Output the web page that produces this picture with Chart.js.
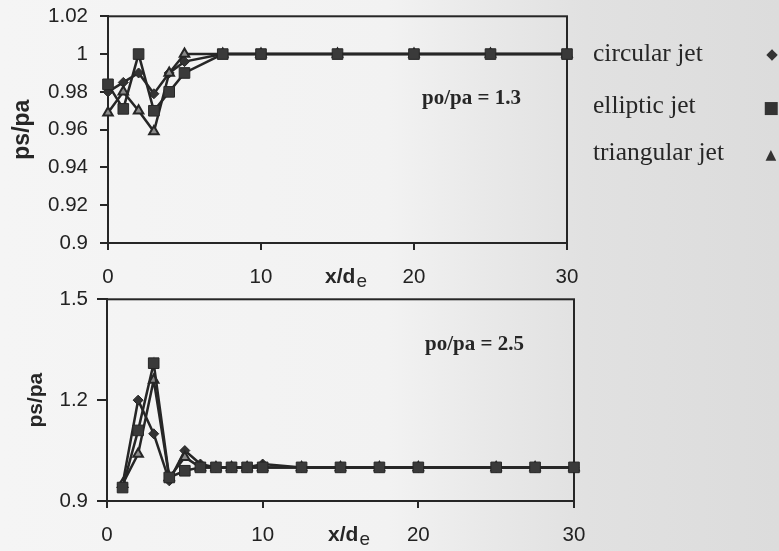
<!DOCTYPE html>
<html><head><meta charset="utf-8">
<script src="https://cdn.jsdelivr.net/npm/chart.js@4.4.0/dist/chart.umd.min.js"></script>
<style>
html,body{margin:0;padding:0;width:779px;height:551px;overflow:hidden;}
body{position:relative;background:linear-gradient(to right,#f5f5f5 0%,#f2f2f2 50%,#e9e9e9 62%,#e1e1e1 75%,#dcdcdc 100%);color:#262626;}
#w1{position:absolute;left:0;top:-8px;width:600px;height:300px;}
#w2{position:absolute;left:0;top:278px;width:610px;height:273px;}
.ann{position:absolute;font-family:"Liberation Serif",serif;font-weight:bold;font-size:21px;transform:translateY(-50%);white-space:nowrap;}
.leg{position:absolute;left:593px;font-family:"Liberation Serif",serif;font-size:25.5px;transform:translateY(-50%);white-space:nowrap;}
.mk{position:absolute;font-family:"DejaVu Sans",sans-serif;transform:translate(-50%,-50%);color:#333;line-height:1;}
</style></head>
<body>
<div id="w1"><canvas id="c1"></canvas></div>
<div id="w2"><canvas id="c2"></canvas></div>
<div class="ann" style="left:422px;top:97px;">po/pa = 1.3</div>
<div class="ann" style="left:425px;top:343px;">po/pa = 2.5</div>
<div class="leg" style="top:53px;">circular jet</div>
<div class="leg" style="top:105px;">elliptic jet</div>
<div class="leg" style="top:152px;">triangular jet</div>
<div class="mk" style="left:772px;top:54px;font-size:15px;">◆</div>
<div class="mk" style="left:771px;top:107px;font-size:17px;">■</div>
<div class="mk" style="left:771px;top:154px;font-size:14px;">▲</div>
<script>
// ---- data ----
const seriesNames = ['circular jet', 'elliptic jet', 'triangular jet'];

// po/pa = 1.3
const xTop    = [0, 1, 2, 3, 4, 5, 7.5, 10, 15, 20, 25, 30];
const circTop = [0.980, 0.985, 0.990, 0.979, 0.990, 0.996, 1, 1, 1, 1, 1, 1];
const ellTop  = [0.984, 0.971, 1.000, 0.970, 0.980, 0.990, 1, 1, 1, 1, 1, 1];
const triTop  = [0.969, 0.980, 0.970, 0.959, 0.990, 1.000, 1, 1, 1, 1, 1, 1];
const yTicksTop = [0.9, 0.92, 0.94, 0.96, 0.98, 1, 1.02];

// po/pa = 2.5
const xBot    = [1, 2, 3, 4, 5, 6, 7, 8, 9, 10, 12.5, 15, 17.5, 20, 25, 27.5, 30];
const circBot = [0.95, 1.20, 1.10, 0.96, 1.05, 1.01, 1.00, 1.00, 1.00, 1.01, 1, 1, 1, 1, 1, 1, 1];
const ellBot  = [0.94, 1.11, 1.31, 0.97, 0.99, 1.00, 1.00, 1.00, 1.00, 1.00, 1, 1, 1, 1, 1, 1, 1];
const triBot  = [0.95, 1.04, 1.26, 0.97, 1.03, 1.00, 1.00, 1.00, 1.00, 1.00, 1, 1, 1, 1, 1, 1, 1];
const yTicksBot = [0.9, 1.2, 1.5];

const xTicks = [0, 10, 20, 30];

// ---- helpers ----
const INK = '#262626';
const pts = (xs, ys) => xs.map((x, i) => ({x: x, y: ys[i]}));
const fmt = v => String(Number(v.toFixed(2)));

function datasets(xs, c, e, t) {
  const base = {borderColor: INK, borderWidth: 2.5, clip: false, tension: 0};
  return [
    Object.assign({}, base, {label: seriesNames[0], data: pts(xs, c), pointStyle: 'rectRot', pointRadius: 5, backgroundColor: '#333', pointBorderColor: INK, pointBorderWidth: 1, order: 2}),
    Object.assign({}, base, {label: seriesNames[1], data: pts(xs, e), pointStyle: 'rect', pointRadius: 7.5, backgroundColor: '#3a3a3a', pointBorderColor: INK, pointBorderWidth: 1, order: 0}),
    Object.assign({}, base, {label: seriesNames[2], data: pts(xs, t), pointStyle: 'triangle', pointRadius: 5.5, backgroundColor: '#8a8a8a', pointBorderColor: INK, pointBorderWidth: 2, order: 1})
  ];
}

const framePlugin = {
  id: 'frame',
  beforeDatasetsDraw(chart) {
    const {ctx, chartArea: a} = chart;
    ctx.save();
    ctx.strokeStyle = INK; ctx.lineWidth = 2;
    ctx.strokeRect(a.left, a.top, a.right - a.left, a.bottom - a.top);
    ctx.restore();
  },
  afterDraw(chart) {
    const {ctx, chartArea: a} = chart;
    const xs = chart.scales.x;
    const cx = (a.left + a.right) / 2 + 8;
    const cy = xs.top + 34;
    ctx.save();
    ctx.fillStyle = INK;
    ctx.textBaseline = 'middle';
    ctx.font = 'bold 21px "Liberation Sans", Arial, sans-serif';
    const w1 = ctx.measureText('x/d').width;
    ctx.font = '19px "Liberation Sans", Arial, sans-serif';
    const w2 = ctx.measureText('e').width;
    const x0 = cx - (w1 + w2) / 2;
    ctx.font = 'bold 21px "Liberation Sans", Arial, sans-serif';
    ctx.fillText('x/d', x0, cy);
    ctx.font = '19px "Liberation Sans", Arial, sans-serif';
    ctx.fillText('e', x0 + w1 + 1, cy + 5);
    ctx.restore();
  }
};

function makeOptions(cfg) {
  return {
    responsive: true,
    maintainAspectRatio: false,
    animation: false,
    layout: {padding: {left: 0, top: cfg.padTop, right: cfg.padRight, bottom: 0}},
    plugins: {legend: {display: false}, tooltip: {enabled: false}},
    scales: {
      x: {
        type: 'linear', min: 0, max: 30,
        afterBuildTicks: s => { s.ticks = xTicks.map(v => ({value: v})); },
        afterFit: s => { s.height = cfg.xHeight; },
        border: {display: true, color: INK, width: 2},
        grid: {display: true, drawOnChartArea: false, drawTicks: true, tickLength: 7, color: INK, lineWidth: 2},
        ticks: {color: '#222', padding: 15, maxRotation: 0, font: {family: '"Liberation Sans", Arial, sans-serif', size: 20.5}}
      },
      y: {
        type: 'linear', min: cfg.yMin, max: cfg.yMax,
        afterBuildTicks: s => { s.ticks = cfg.yTicks.map(v => ({value: v})); },
        afterFit: s => { s.width = cfg.yWidth; },
        border: {display: true, color: INK, width: 2},
        grid: {display: true, drawOnChartArea: false, drawTicks: true, tickLength: cfg.yTickLen, color: INK, lineWidth: 2},
        ticks: {color: '#222', padding: cfg.yPad, callback: v => fmt(v), font: {family: '"Liberation Sans", Arial, sans-serif', size: 20.5}},
        title: {display: true, text: 'ps/pa', color: INK, padding: {top: cfg.titlePad, bottom: 0}, font: {family: '"Liberation Sans", Arial, sans-serif', size: cfg.titleSize, weight: 'bold'}}
      }
    }
  };
}

new Chart(document.getElementById('c1'), {
  type: 'line',
  data: {datasets: datasets(xTop, circTop, ellTop, triTop)},
  options: makeOptions({padTop: 7, padRight: 33, xHeight: 49, yWidth: 108, yMin: 0.9, yMax: 1.02, yTicks: yTicksTop, yTickLen: 8, yPad: 12, titlePad: 9, titleSize: 23}),
  plugins: [framePlugin]
});

new Chart(document.getElementById('c2'), {
  type: 'line',
  data: {datasets: datasets(xBot, circBot, ellBot, triBot)},
  options: makeOptions({padTop: 12, padRight: 36, xHeight: 50, yWidth: 107, yMin: 0.9, yMax: 1.5, yTicks: yTicksBot, yTickLen: 10, yPad: 9, titlePad: 24, titleSize: 21}),
  plugins: [framePlugin]
});
</script>
</body></html>
